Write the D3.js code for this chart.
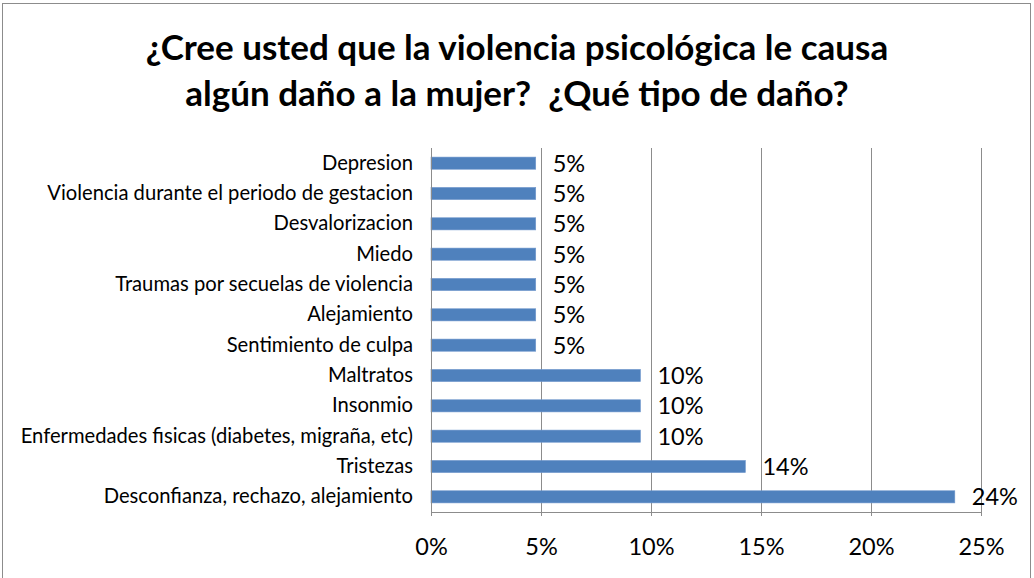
<!DOCTYPE html>
<html>
<head>
<meta charset="utf-8">
<script src="https://cdn.jsdelivr.net/npm/d3@7"></script>
<style>
  body { margin: 0; background: #fff; }
  text { font-family: Lato, "Open Sans", sans-serif; fill: #000; }
</style>
</head>
<body>
<div id="chart"></div>
<script>
// data
const categories = [
  "Depresion",
  "Violencia durante el periodo de gestacion",
  "Desvalorizacion",
  "Miedo",
  "Traumas por secuelas de violencia",
  "Alejamiento",
  "Sentimiento de culpa",
  "Maltratos",
  "Insonmio",
  "Enfermedades fisicas (diabetes, migraña, etc)",
  "Tristezas",
  "Desconfianza, rechazo, alejamiento",
];
const values = [
  0.0476, 0.0476, 0.0476, 0.0476, 0.0476, 0.0476, 0.0476,
  0.0952, 0.0952, 0.0952, 0.1429, 0.2381,
];
const tickValues = [0, 0.05, 0.1, 0.15, 0.2, 0.25];
const titleLines = [
  "¿Cree usted que la violencia psicológica le causa",
  "algún daño a la mujer?  ¿Qué tipo de daño?",
];

const dataset = categories.map((c, i) => ({ category: c, value: values[i] }));

// dimensions
let dimensions = {
  width: 1034,
  height: 578,
  margin: { top: 148, right: 53, bottom: 66, left: 431 },
};
dimensions.boundedWidth =
  dimensions.width - dimensions.margin.left - dimensions.margin.right;
dimensions.boundedHeight =
  dimensions.height - dimensions.margin.top - dimensions.margin.bottom;

const svg = d3
  .select("#chart")
  .append("svg")
  .attr("width", dimensions.width)
  .attr("height", dimensions.height);

// outer chart frame
svg
  .append("rect")
  .attr("x", 2.5)
  .attr("y", 3.5)
  .attr("width", 1028)
  .attr("height", 580)
  .attr("fill", "#fff")
  .attr("stroke", "#8c8c8c")
  .attr("stroke-width", 1);

// title
svg
  .append("text")
  .attr("text-anchor", "middle")
  .attr("font-weight", "bold")
  .attr("font-size", 35)
  .style("white-space", "pre")
  .selectAll("tspan")
  .data(titleLines)
  .join("tspan")
  .attr("x", 517)
  .attr("y", (d, i) => 60 + i * 46)
  .text((d) => d);

const bounds = svg
  .append("g")
  .attr(
    "transform",
    `translate(${dimensions.margin.left}, ${dimensions.margin.top})`,
  );

// scales
const xScale = d3
  .scaleLinear()
  .domain([0, 0.25])
  .range([0, dimensions.boundedWidth]);

const yScale = d3
  .scaleBand()
  .domain(categories)
  .range([0, dimensions.boundedHeight])
  .paddingInner(0.6)
  .paddingOuter(0.3);

// gridlines
bounds
  .append("g")
  .selectAll("line")
  .data(tickValues.slice(1))
  .join("line")
  .attr("x1", (d) => Math.round(xScale(d)) + 0.5)
  .attr("x2", (d) => Math.round(xScale(d)) + 0.5)
  .attr("y1", 0)
  .attr("y2", dimensions.boundedHeight)
  .attr("stroke", "#8c8c8c")
  .attr("stroke-width", 1);

// bars
bounds
  .append("g")
  .selectAll("rect")
  .data(dataset)
  .join("rect")
  .attr("x", 0)
  .attr("y", (d) => yScale(d.category))
  .attr("width", (d) => xScale(d.value))
  .attr("height", yScale.bandwidth())
  .attr("fill", "#4f81bd")
  .attr("stroke", "#6f97cc")
  .attr("stroke-width", 0.6);

// data labels
const formatPct = d3.format(".0%");
bounds
  .append("g")
  .selectAll("text")
  .data(dataset)
  .join("text")
  .attr("x", (d) => xScale(d.value) + 17)
  .attr("y", (d) => yScale(d.category) + yScale.bandwidth() / 2)
  .attr("dy", "0.36em")
  .attr("font-size", 23.5)
  .text((d) => formatPct(d.value));

// y axis
const yAxis = bounds
  .append("g")
  .call(d3.axisLeft(yScale).tickSize(0).tickPadding(18));
yAxis.select(".domain").attr("stroke", "#8c8c8c").attr("d", `M0.5,0V${dimensions.boundedHeight}`);
yAxis.selectAll("text").attr("font-size", 20.2).attr("font-family", null);

// x axis
const xAxis = bounds
  .append("g")
  .attr("transform", `translate(0, ${dimensions.boundedHeight})`)
  .call(
    d3.axisBottom(xScale).tickValues(tickValues).tickFormat(formatPct)
      .tickSizeInner(4).tickSizeOuter(0).tickPadding(22),
  );
xAxis.select(".domain").attr("stroke", "#8c8c8c");
xAxis.selectAll(".tick line").attr("stroke", "#8c8c8c");
xAxis.selectAll("text").attr("font-size", 23.5).attr("font-family", null);
</script>
</body>
</html>
